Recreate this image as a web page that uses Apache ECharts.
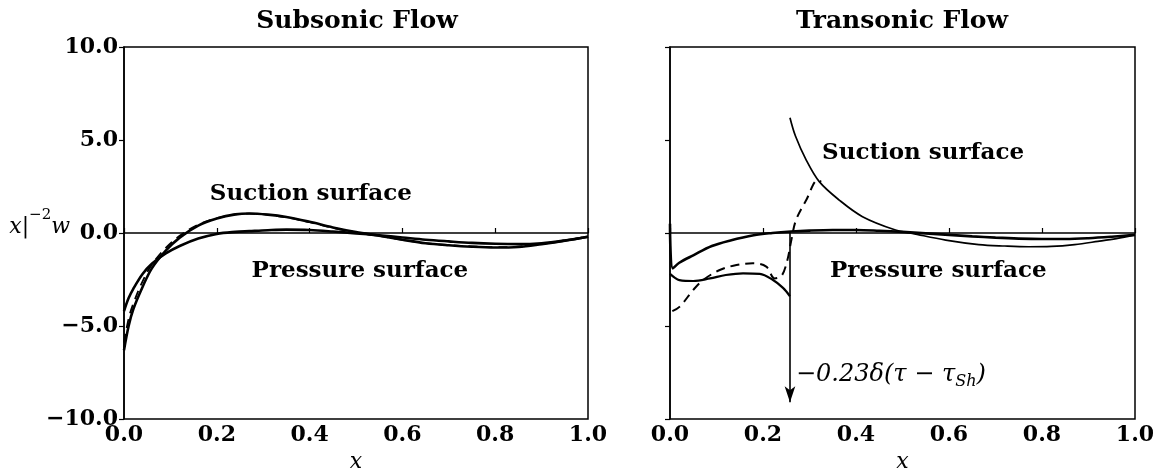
<!DOCTYPE html>
<html>
<head>
<meta charset="utf-8">
<script src="https://cdn.jsdelivr.net/npm/echarts@6/dist/echarts.min.js"></script>
<style>
html,body{margin:0;padding:0;background:#fff;}
#chart{width:1162px;height:469px;}
</style>
</head>
<body>
<div id="chart"></div>
<script>
// ---- Data ----
const panelTitles = ['Subsonic Flow', 'Transonic Flow'];
const xTicks = [0.0, 0.2, 0.4, 0.6, 0.8, 1.0];
const yTicks = [-10, -5, 0, 5, 10];
const yAxisTitle = '{a|x|}{s|−2}{a|w}';

// Subsonic panel
const subX        = [0, 0.01, 0.02, 0.04, 0.06, 0.09, 0.12, 0.16, 0.2, 0.24, 0.27, 0.31, 0.35, 0.4, 0.45, 0.5, 0.55, 0.6, 0.65, 0.7, 0.75, 0.8, 0.85, 0.9, 0.95, 1.0];
const subSuction  = [-6.3, -5.0, -4.1, -2.9, -1.9, -0.95, -0.25, 0.4, 0.78, 1.0, 1.05, 0.99, 0.86, 0.6, 0.3, 0.05, -0.15, -0.36, -0.55, -0.66, -0.74, -0.78, -0.75, -0.6, -0.42, -0.2];
const subPressure = [-4.2, -3.5, -3.0, -2.2, -1.65, -1.1, -0.7, -0.3, -0.05, 0.06, 0.1, 0.15, 0.18, 0.16, 0.08, -0.02, -0.12, -0.24, -0.36, -0.45, -0.53, -0.58, -0.6, -0.55, -0.4, -0.2];
const subDashed   = [-5.9, -4.6, -3.8, -2.6, -1.7, -0.8, -0.15, 0.45, 0.8, 1.0, 1.04, 0.98, 0.84, 0.58, 0.28, 0.03, -0.16, -0.37, -0.55, -0.65, -0.72, -0.76, -0.73, -0.58, -0.4, -0.2];

// Transonic panel
const tranPressX  = [0, 0.006, 0.02, 0.05, 0.09, 0.13, 0.18, 0.22, 0.26, 0.3, 0.35, 0.4, 0.45, 0.5, 0.55, 0.6, 0.65, 0.7, 0.75, 0.8, 0.85, 0.9, 0.95, 1.0];
const tranPress   = [0.5, -1.9, -1.6, -1.2, -0.7, -0.4, -0.12, 0.0, 0.08, 0.13, 0.16, 0.16, 0.12, 0.06, -0.02, -0.1, -0.18, -0.25, -0.3, -0.32, -0.32, -0.28, -0.2, -0.1];
const tranSucPreX = [0, 0.01, 0.02, 0.05, 0.086, 0.12, 0.157, 0.193, 0.22, 0.243, 0.258];
const tranSucPre  = [-2.2, -2.4, -2.53, -2.58, -2.44, -2.26, -2.17, -2.2, -2.5, -2.95, -3.4];
const tranSucPostX= [0.258, 0.27, 0.293, 0.321, 0.364, 0.414, 0.485, 0.521, 0.593, 0.664, 0.72, 0.771, 0.82, 0.87, 0.92, 0.96, 1.0];
const tranSucPost = [6.2, 5.2, 3.92, 2.76, 1.77, 0.88, 0.16, -0.02, -0.38, -0.62, -0.7, -0.74, -0.72, -0.62, -0.45, -0.3, -0.1];
const tranDashX   = [0.005, 0.021, 0.05, 0.071, 0.107, 0.143, 0.178, 0.207, 0.225, 0.24, 0.252, 0.261, 0.271, 0.293, 0.318, 0.325];
const tranDash    = [-4.2, -3.96, -3.06, -2.53, -1.99, -1.72, -1.63, -1.81, -2.44, -2.3, -1.5, -0.38, 0.7, 1.77, 2.85, 2.75];

// Shock delta arrow
const shockX = 0.258;
const arrowTop = 0.1;
const arrowBottom = -9.1;
const shockText = '{m|−0.23δ(τ − τ}{s|Sh}{m|)}';
const shockTextY = -7.6;

// Curve label anchors [x, y] (text starts here)
const curveLabels = [
  {panel: 0, text: 'Suction surface',  at: [0.185, 2.1]},
  {panel: 0, text: 'Pressure surface', at: [0.275, -2.05]},
  {panel: 1, text: 'Suction surface',  at: [0.327, 4.3]},
  {panel: 1, text: 'Pressure surface', at: [0.344, -2.05]}
];

// ---- Build chart ----
const zip = (xs, ys) => xs.map((x, i) => [x, ys[i]]);
const FONT = 'DejaVu Serif';
const fmtY = v => (v < 0 ? '−' : '') + Math.abs(v).toFixed(1);

const chart = echarts.init(document.getElementById('chart'), null, {renderer: 'canvas'});

const grids = [
  {left: 124, right: 574, top: 47, bottom: 50},
  {left: 670, right: 27, top: 47, bottom: 50}
].map(g => Object.assign(g, {
  show: true, borderColor: '#000', borderWidth: 1.5, backgroundColor: 'transparent',
  containLabel: false, outerBoundsMode: 'none'
}));

const xAxes = [0, 1].map(i => ({
  type: 'value', gridIndex: i, min: xTicks[0], max: xTicks[xTicks.length - 1], interval: 0.2,
  axisLine: {lineStyle: {color: '#000', width: 1.5}},
  axisTick: {inside: true, length: 5, lineStyle: {color: '#000', width: 1.2}},
  splitLine: {show: false},
  axisLabel: {color: '#000', fontFamily: FONT, fontWeight: 'bold', fontSize: 22, margin: 5, formatter: v => v.toFixed(1)},
  name: 'x', nameLocation: 'middle', nameGap: 32,
  nameTextStyle: {color: '#000', fontFamily: FONT, fontStyle: 'italic', fontSize: 22}
}));

const yAxes = [0, 1].map(i => ({
  type: 'value', gridIndex: i, min: yTicks[0], max: yTicks[yTicks.length - 1], interval: 5,
  axisLine: {lineStyle: {color: '#000', width: 1.5}},
  axisTick: {inside: false, length: 5, lineStyle: {color: '#000', width: 1.2}},
  splitLine: {show: false},
  axisLabel: {show: i === 0, color: '#000', fontFamily: FONT, fontWeight: 'bold', fontSize: 22, margin: 6, formatter: fmtY}
}));

const lineS = (name, gi, data, width, dashed) => ({
  name, type: 'line', xAxisIndex: gi, yAxisIndex: gi, data,
  showSymbol: false, symbol: 'none', smooth: 0.35, clip: true,
  lineStyle: {color: '#000', width, type: dashed ? [9, 6] : 'solid'},
  z: 3, silent: true
});

const series = [
  lineS('subSuction', 0, zip(subX, subSuction), 2.6, false),
  lineS('subPressure', 0, zip(subX, subPressure), 2.6, false),
  lineS('subDashed', 0, zip(subX, subDashed), 1.8, true),
  lineS('tranPressure', 1, zip(tranPressX, tranPress), 2.6, false),
  lineS('tranSuctionPre', 1, zip(tranSucPreX, tranSucPre), 2.2, false),
  lineS('tranSuctionPost', 1, zip(tranSucPostX, tranSucPost), 1.7, false),
  lineS('tranDashed', 1, zip(tranDashX, tranDash), 2.0, true),
  {
    type: 'line', xAxisIndex: 1, yAxisIndex: 1, data: [], silent: true,
    markLine: {
      silent: true, animation: false,
      symbol: ['none', 'arrow'], symbolSize: [8, 16],
      lineStyle: {color: '#000', width: 1.6, type: 'solid', opacity: 1},
      label: {show: false},
      data: [[{coord: [shockX, arrowTop]}, {coord: [shockX, arrowBottom]}]]
    }
  },
  {
    type: 'scatter', xAxisIndex: 1, yAxisIndex: 1, symbolSize: 0, silent: true,
    itemStyle: {opacity: 1, color: '#000'},
    data: [[shockX, shockTextY]],
    label: {
      show: true, position: 'right', distance: 6, formatter: shockText, opacity: 1,
      rich: {
        m: {fontFamily: FONT, fontStyle: 'italic', fontSize: 24, color: '#000', lineHeight: 30, verticalAlign: 'middle'},
        s: {fontFamily: FONT, fontStyle: 'italic', fontSize: 16, color: '#000', lineHeight: 30, verticalAlign: 'bottom', padding: [12, 0, 0, 0]}
      }
    }
  }
].concat(curveLabels.map(c => ({
  type: 'scatter', xAxisIndex: c.panel, yAxisIndex: c.panel, symbolSize: 0, silent: true,
  itemStyle: {opacity: 1, color: '#000'},
  data: [c.at],
  label: {show: true, position: 'right', distance: 0, formatter: c.text, opacity: 1,
          fontFamily: FONT, fontWeight: 'bold', fontSize: 23, color: '#000'}
})));

chart.setOption({
  animation: false,
  backgroundColor: '#fff',
  title: panelTitles.map((t, i) => ({
    text: t, left: i === 0 ? 357 : 902, top: 9, padding: 0, textAlign: 'center',
    textStyle: {fontFamily: FONT, fontWeight: 'bold', fontSize: 25, color: '#000'}
  })),
  graphic: [{
    type: 'text', x: 70, y: 238, silent: true,
    style: {
      text: yAxisTitle, align: 'right', verticalAlign: 'bottom',
      rich: {
        a: {fontFamily: FONT, fontStyle: 'italic', fontSize: 22, fill: '#000', lineHeight: 30, verticalAlign: 'bottom'},
        s: {fontFamily: FONT, fontSize: 15, fill: '#000', lineHeight: 30, verticalAlign: 'top'}
      }
    }
  }],
  grid: grids,
  xAxis: xAxes,
  yAxis: yAxes,
  series
});
</script>
</body>
</html>
